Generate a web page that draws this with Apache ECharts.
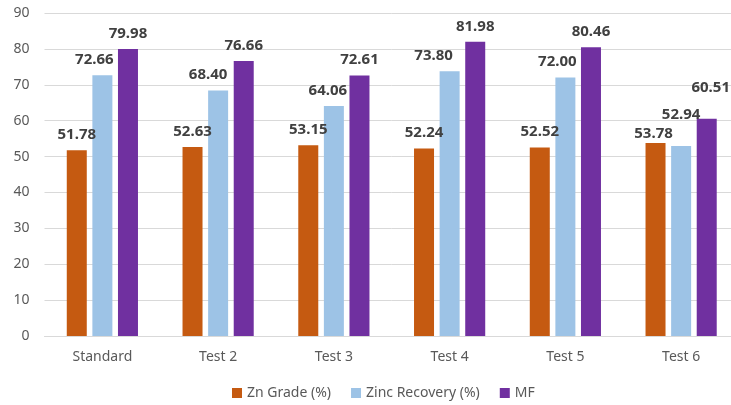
<!DOCTYPE html>
<html>
<head>
<meta charset="utf-8">
<script src="https://cdn.jsdelivr.net/npm/echarts@6/dist/echarts.min.js"></script>
<style>
  html, body { margin: 0; padding: 0; background: #ffffff; overflow: hidden; }
  /* plot area runs slightly past the right edge of the visible page */
  #chart { width: 739px; height: 405px; }
</style>
</head>
<body>
<div id="chart"></div>
<script>
// Categories and series values
const categories = ['Standard', 'Test 2', 'Test 3', 'Test 4', 'Test 5', 'Test 6'];
const znGrade = [51.78, 52.63, 53.15, 52.24, 52.52, 53.78];
const zincRecovery = [72.66, 68.40, 64.06, 73.80, 72.00, 52.94];
const mf = [79.98, 76.66, 72.61, 81.98, 80.46, 60.51];
const seriesNames = ['Zn Grade (%)', 'Zinc Recovery (%)', 'MF'];
const yTicks = { min: 0, max: 90, interval: 10 };

// Hand-placed label nudges [dx, dy] so neighbouring labels don't collide
const labelNudge = {
  'Zn Grade (%)':      [[0,0],[0,0],[0,0],[0,0],[0,0],[-2,6]],
  'Zinc Recovery (%)': [[-8,0],[-10,0],[-6,0],[-16,0],[-8,0],[0,-16]],
  'MF':                [[0,0],[0,0],[0,0],[0,0],[0,0],[4,-16]]
};

const colors = ['#C55A11', '#9DC3E6', '#7030A0'];
const font = 'Noto Sans';

function makeSeries(name, values, color) {
  return {
    name: name,
    type: 'bar',
    barWidth: 20,
    barGap: '28%',
    itemStyle: { color: color },
    label: {
      show: true,
      position: 'top',
      distance: 8,
      fontFamily: font,
      fontSize: 15,
      fontWeight: 'bold',
      color: '#404040',
      formatter: p => p.value.toFixed(2)
    },
    data: values.map((v, i) => ({
      value: v,
      label: { offset: labelNudge[name][i] }
    }))
  };
}

const chart = echarts.init(document.getElementById('chart'), null, { renderer: 'canvas' });
chart.setOption({
  animation: false,
  backgroundColor: '#ffffff',
  grid: { left: 44.5, right: 0, top: 13, height: 323, containLabel: false },
  xAxis: {
    type: 'category',
    data: categories,
    axisLine: { show: true, lineStyle: { color: '#D9D9D9', width: 1 } },
    axisTick: { show: false },
    axisLabel: { color: '#595959', fontFamily: font, fontSize: 14, margin: 14 }
  },
  yAxis: {
    type: 'value',
    min: yTicks.min,
    max: yTicks.max,
    interval: yTicks.interval,
    axisLine: { show: false },
    axisTick: { show: false },
    splitLine: { lineStyle: { color: '#D9D9D9', width: 1 } },
    axisLabel: { color: '#595959', fontFamily: font, fontSize: 14, margin: 15 }
  },
  legend: {
    data: seriesNames,
    left: 227,
    top: 381,
    itemWidth: 10,
    itemHeight: 10,
    itemGap: 20,
    icon: 'rect',
    textStyle: { color: '#595959', fontFamily: font, fontSize: 14 }
  },
  series: [
    makeSeries(seriesNames[0], znGrade, colors[0]),
    makeSeries(seriesNames[1], zincRecovery, colors[1]),
    makeSeries(seriesNames[2], mf, colors[2])
  ]
});
</script>
</body>
</html>
